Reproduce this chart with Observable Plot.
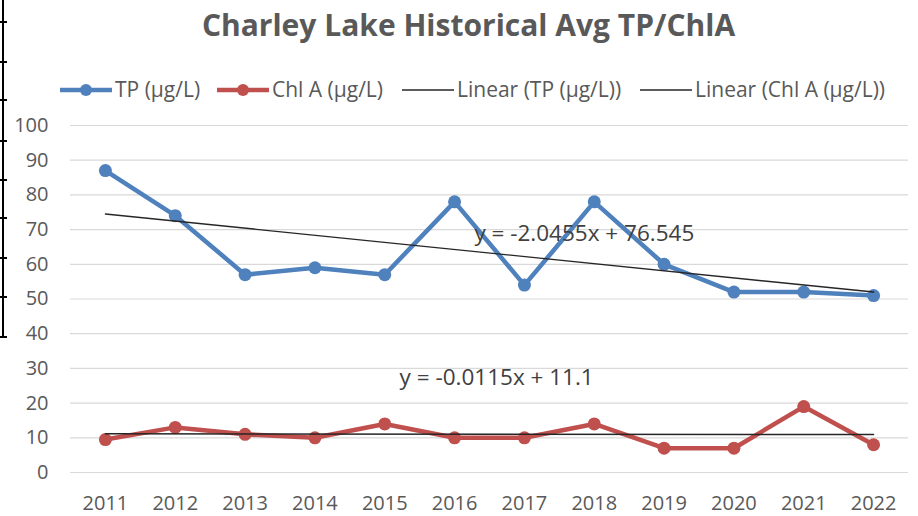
<!DOCTYPE html>
<html>
<head>
<meta charset="utf-8">
<script src="https://cdn.jsdelivr.net/npm/d3@7"></script>
<script src="https://cdn.jsdelivr.net/npm/@observablehq/plot@0.6"></script>
<style>
  body { margin: 0; background: #fff; width: 918px; height: 516px; position: relative; overflow: hidden; font-family: "Open Sans", Lato, sans-serif; }
  #title { position: absolute; left: 0; width: 937px; top: 5px; text-align: center; font-size: 30px; font-weight: bold; color: #595959; line-height: 40px; white-space: nowrap; }
  .leg { position: absolute; top: 78px; height: 22px; font-size: 21px; color: #595959; line-height: 22px; white-space: nowrap; }
  .leg svg { position: absolute; left: 0; top: 1px; }
  .leg span { position: absolute; top: 0; }
  #chart { position: absolute; left: 0; top: 110px; }
  .bl { position: absolute; background: #000; z-index: 10; }
</style>
</head>
<body>
<div class="bl" style="left:2px;top:0;width:2px;height:338px"></div>
<div class="bl" style="left:0;top:21px;width:7px;height:2px"></div>
<div class="bl" style="left:0;top:61px;width:7px;height:2px"></div>
<div class="bl" style="left:0;top:99px;width:7px;height:2px"></div>
<div class="bl" style="left:0;top:140px;width:7px;height:2px"></div>
<div class="bl" style="left:0;top:179px;width:7px;height:2px"></div>
<div class="bl" style="left:0;top:217px;width:7px;height:2px"></div>
<div class="bl" style="left:0;top:257px;width:7px;height:2px"></div>
<div class="bl" style="left:0;top:296px;width:7px;height:2px"></div>
<div class="bl" style="left:0;top:336px;width:7px;height:2px"></div>
<div id="title"></div>
<div id="legend"></div>
<div id="chart"></div>
<script>
const titleText = "Charley Lake Historical Avg TP/ChlA";
const years = [2011, 2012, 2013, 2014, 2015, 2016, 2017, 2018, 2019, 2020, 2021, 2022];
const tp = [87, 74, 57, 59, 57, 78, 54, 78, 60, 52, 52, 51];
const chla = [9.5, 13, 11, 10, 14, 10, 10, 14, 7, 7, 19, 8];
const seriesNames = ["TP (µg/L)", "Chl A (µg/L)", "Linear (TP (µg/L))", "Linear (Chl A (µg/L))"];
const yTicks = [0, 10, 20, 30, 40, 50, 60, 70, 80, 90, 100];
const equations = ["y = -2.0455x + 76.545", "y = -0.0115x + 11.1"];

const blue = "#4F81BD", red = "#C0504D", trend = "#262626";
const font = "'Open Sans', Lato, sans-serif";

document.getElementById("title").textContent = titleText;

// legend
const legendItems = [
  {name: seriesNames[0], color: blue, marker: true, left: 60},
  {name: seriesNames[1], color: red, marker: true, left: 217},
  {name: seriesNames[2], color: trend, marker: false, left: 402},
  {name: seriesNames[3], color: trend, marker: false, left: 640}
];
const legend = document.getElementById("legend");
for (const it of legendItems) {
  const d = document.createElement("div");
  d.className = "leg";
  d.style.left = it.left + "px";
  const sw = it.marker
    ? `<svg width="54" height="22"><line x1="0" x2="52" y1="11" y2="11" stroke="${it.color}" stroke-width="4.5"/><circle cx="26" cy="11" r="6" fill="${it.color}"/></svg>`
    : `<svg width="54" height="22"><line x1="0" x2="52" y1="11" y2="11" stroke="${it.color}" stroke-width="1.5"/></svg>`;
  d.innerHTML = sw + `<span style="left:55px">${it.name}</span>`;
  legend.appendChild(d);
}

const tpData = years.map((y, i) => ({year: y, value: tp[i]}));
const chlData = years.map((y, i) => ({year: y, value: chla[i]}));

const chart = Plot.plot({
  width: 918,
  height: 406,
  marginLeft: 70,
  marginRight: 10,
  marginTop: 15,
  marginBottom: 44,
  style: {fontFamily: font, fontSize: "20px", color: "#595959", background: "transparent"},
  x: {type: "linear", domain: [2010.5, 2022.5], label: null},
  y: {domain: [0, 100], label: null},
  marks: [
    Plot.gridY(yTicks, {stroke: "#d9d9d9", strokeOpacity: 1, strokeWidth: 1.2}),
    Plot.axisX({ticks: years, tickFormat: d => String(d), tickSize: 0, tickPadding: 23, fill: "#595959", fontSize: 20}),
    Plot.axisY({ticks: yTicks, tickSize: 0, tickPadding: 22, fill: "#595959", fontSize: 20}),
    Plot.line(tpData, {x: "year", y: "value", stroke: blue, strokeWidth: 4.5}),
    Plot.dot(tpData, {x: "year", y: "value", r: 6.5, fill: blue}),
    Plot.line(chlData, {x: "year", y: "value", stroke: red, strokeWidth: 4.5}),
    Plot.dot(chlData, {x: "year", y: "value", r: 6.5, fill: red}),
    Plot.linearRegressionY(tpData, {x: "year", y: "value", stroke: trend, strokeWidth: 1.4, ci: 0}),
    Plot.linearRegressionY(chlData, {x: "year", y: "value", stroke: trend, strokeWidth: 1.4, ci: 0}),
    Plot.text([equations[0]], {x: 2017, y: 68.9, text: d => d, textAnchor: "start", dx: -50, fill: "#404040", fontSize: 22.5}),
    Plot.text([equations[1]], {x: 2016, y: 27.3, text: d => d, textAnchor: "start", dx: -55, fill: "#404040", fontSize: 22.5})
  ]
});
document.getElementById("chart").appendChild(chart);
</script>
</body>
</html>
